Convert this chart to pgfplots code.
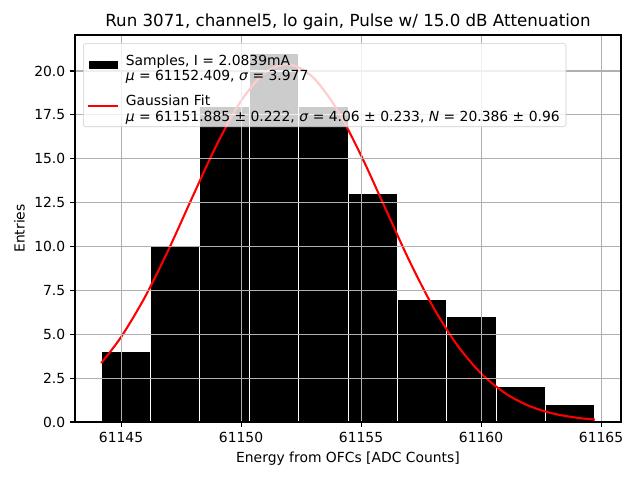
\documentclass[border=0pt]{standalone}
\usepackage{fontspec}
\setmainfont{DejaVu Sans}
\usepackage{pgfplots}
\pgfplotsset{compat=1.18}
\usetikzlibrary{calc}
\begin{document}
\begin{tikzpicture}
\begin{axis}[
  scale only axis,
  width=393.1pt, height=278.6pt,
  xmin=61143.08, xmax=61165.83,
  ymin=0, ymax=22.05,
  axis on top,
  grid=major,
  grid style={color=black!31, line width=0.8pt},
  axis line style={line width=0.8pt},
  tick style={black, line width=0.8pt},
  tick align=outside,
  major tick length=3.5pt,
  xtick pos=left, ytick pos=left,
  scaled x ticks=false,
  xtick={61145,61150,61155,61160,61165},
  ytick={0,2.5,5,7.5,10,12.5,15,17.5,20},
  tick label style={font=\fontsize{10}{12}\selectfont},
  /pgf/number format/assume math mode=true,
  xticklabel={\pgfmathprintnumber[fixed,precision=0,1000 sep={}]{\tick}},
  yticklabel style={/pgf/number format/fixed, /pgf/number format/fixed zerofill, /pgf/number format/precision=1},
  xlabel={Energy from OFCs [ADC Counts]},
  ylabel={Entries},
  label style={font=\fontsize{10}{12}\selectfont},
  title={Run 3071, channel5, lo gain, Pulse w/ 15.0 dB Attenuation},
  title style={font=\fontsize{12}{14}\selectfont, yshift=-6pt},
  legend cell align=left,
  legend style={font=\fontsize{10}{11.5}\selectfont, fill=white, fill opacity=0.8, draw opacity=1, text opacity=1, draw=black!20, rounded corners=2pt, at={(0.0147,0.979)}, anchor=north west, inner xsep=2.5pt, inner ysep=5.5pt, row sep=10pt, column sep=3pt},
]
\addplot[ybar interval, fill=black, draw=white, line width=0.6pt,
  legend image code/.code={\fill[black, sharp corners, fill opacity=1] (1.5pt,-2.6pt) rectangle (21.6pt,2.6pt);}] coordinates {
(61144.17,4) (61146.23,10) (61148.28,18) (61150.34,21) (61152.40,18)
(61154.46,13) (61156.51,7) (61158.57,6) (61160.63,2) (61162.68,1) (61164.74,1)
};
\addlegendentry{\begin{tabular}{@{}l@{}}Samples, I = 2.0839mA\\ \textit{μ} = 61152.409, \textit{σ} = 3.977\end{tabular}}
\addplot[red, line width=1.5pt, smooth, no markers,
  legend image code/.code={\draw[red,line width=1.5pt, sharp corners, draw opacity=1] (0pt,0pt) -- (21.6pt,0pt);}] coordinates {
(61144.17,3.352) (61145,4.839) (61146,7.131) (61147,9.885) (61148,12.899)
(61149,15.838) (61150,18.302) (61151,19.907) (61152,20.378) (61153,19.632)
(61154,17.799) (61155,15.188) (61156,12.199) (61157,9.218) (61158,6.557)
(61159,4.389) (61160,2.766) (61161,1.640) (61162,0.915) (61163,0.481)
(61164,0.2376) (61164.74,0.1356)
};
\addlegendentry{\begin{tabular}{@{}l@{}}Gaussian Fit\\ \textit{μ} = 61151.885 ± 0.222, \textit{σ} = 4.06 ± 0.233, \textit{N} = 20.386 ± 0.96\end{tabular}}
\end{axis}
\pgfresetboundingbox
\path ($(current axis.south west)+(-54pt,-41.76pt)$) rectangle ($(current axis.north east)+(13.68pt,25.2pt)$);
\end{tikzpicture}
\end{document}
